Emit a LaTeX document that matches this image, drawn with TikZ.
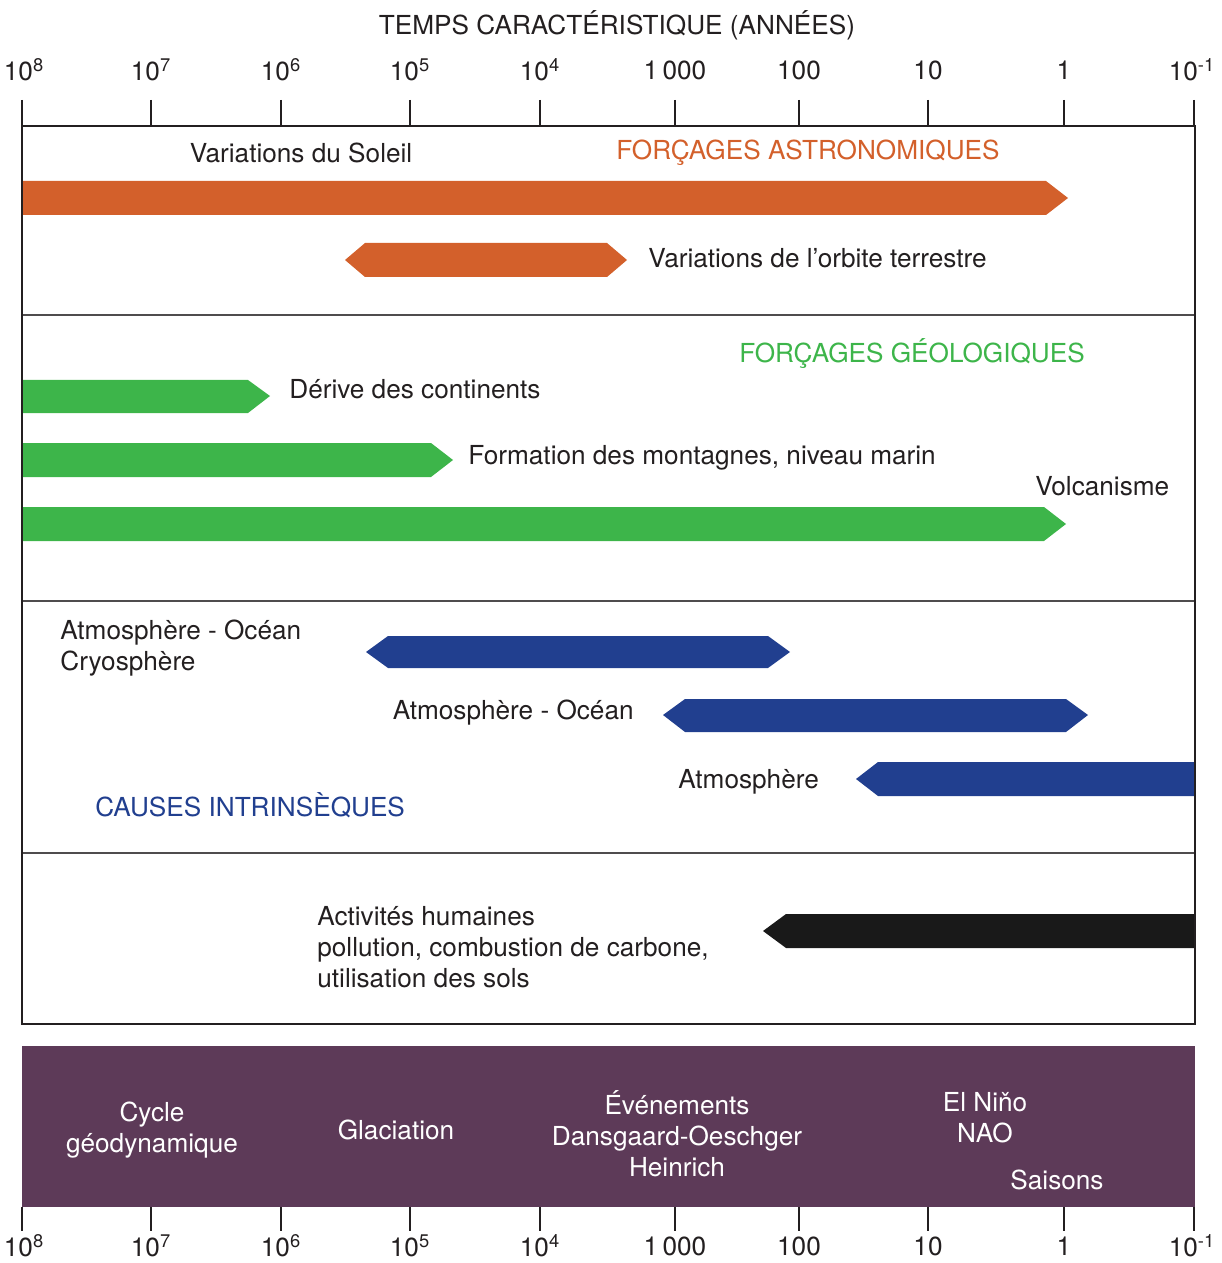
\documentclass[tikz,border=0pt]{standalone}
\usepackage{fontspec}
\setmainfont{TeX Gyre Heros}
\definecolor{orangeF}{HTML}{D3602B}
\definecolor{vertF}{HTML}{3DB54A}
\definecolor{bleuF}{HTML}{213F8F}
\definecolor{violetF}{HTML}{5D3A58}
\definecolor{grisT}{HTML}{231F20}

\begin{document}
\begin{tikzpicture}[x=0.02cm,y=-0.02cm]
	\tikzset{
		texte/.style={text=grisT,font=\fontsize{14.9}{17.6}\selectfont,inner sep=0pt,align=left},
		blanc/.style={texte,text=white,align=center},
		trait/.style={draw=grisT,line width=1.1pt},
		separ/.style={draw=grisT!80,line width=.8pt}}
	\useasboundingbox (0,0) rectangle (1222,1263);
	% forcages astronomiques
	\fill[orangeF] (22,181)--(1046,181)--(1068,198)--(1046,215)--(22,215)--cycle;
	\fill[orangeF] (345,260)--(365,243)--(607,243)--(627,260)--(607,277)--(365,277)--cycle;
	% forcages geologiques
	\fill[vertF] (22,380)--(248,380)--(270,396)--(248,413)--(22,413)--cycle;
	\fill[vertF] (22,443)--(431,443)--(453,460)--(431,477)--(22,477)--cycle;
	\fill[vertF] (22,507)--(1044,507)--(1066,524)--(1044,541)--(22,541)--cycle;
	% causes intrinseques
	\fill[bleuF] (366,652)--(388,636)--(768,636)--(790,652)--(768,668)--(388,668)--cycle;
	\fill[bleuF] (663,715)--(685,699)--(1066,699)--(1088,715)--(1066,732)--(685,732)--cycle;
	\fill[bleuF] (856,779)--(878,762)--(1195,762)--(1195,796)--(878,796)--cycle;
	% activites humaines
	\fill[black!90] (763,931)--(786,914)--(1195,914)--(1195,948)--(786,948)--cycle;
	% cadre
	\draw[separ] (22,315)--(1195,315) (22,601)--(1195,601) (22,853)--(1195,853);
	\draw[trait] (22,126) rectangle (1195,1024);
	\fill[violetF] (22,1046) rectangle (1195,1207);
	% axes
	\foreach \x/\xl/\lab [count=\i] in {22/24/10\textsuperscript{8},151/151/10\textsuperscript{7},281/281/10\textsuperscript{6},
		410/410/10\textsuperscript{5},540/540/10\textsuperscript{4},675/675/1\,000,799/799/100,928/928/10,1064/1064/1,1194/1192/10\textsuperscript{-1}}{
		\draw[trait] (\x,100)--(\x,126);
		\node[texte] (haut\i) at (\xl,70) {\lab};
		\draw[trait] (\x,1207)--(\x,1231);
		\node[texte] (bas\i) at (\xl,1246) {\lab};}
	\node[texte] (titre) at (617,25) {TEMPS CARACTÉRISTIQUE (ANNÉES)};
	% textes
	\node[texte] (soleil) at (301,153) {Variations du Soleil};
	\node[texte,text=orangeF] (astro) at (808,153) {FORÇAGES ASTRONOMIQUES};
	\node[texte,anchor=west] (orbite) at (648,258) {Variations de l’orbite terrestre};
	\node[texte,text=vertF] (geol) at (912,354) {FORÇAGES GÉOLOGIQUES};
	\node[texte,anchor=west] (derive) at (289,389) {Dérive des continents};
	\node[texte,anchor=west] (montagnes) at (468,458) {Formation des montagnes, niveau marin};
	\node[texte,anchor=west] (volcan) at (1035,486) {Volcanisme};
	\node[texte,anchor=west] (atmoc) at (60,648) {Atmosphère - Océan\\Cryosphère};
	\node[texte,anchor=east] (atmo) at (634,713) {Atmosphère - Océan};
	\node[texte,anchor=west] (atm) at (678,782) {Atmosphère};
	\node[texte,anchor=west,text=bleuF] (causes) at (95,805) {CAUSES INTRINSÈQUES};
	\node[texte,anchor=west] (humain) at (317,947) {Activités humaines\\pollution, combustion de carbone,\\utilisation des sols};
	\node[blanc] (cycle) at (152,1130) {Cycle\\géodynamique};
	\node[blanc] (glace) at (396,1130) {Glaciation};
	\node[blanc] (evenem) at (677,1134) {Événements\\Dansgaard-Oeschger\\Heinrich};
	\node[blanc] (nino) at (985,1118) {El Niňo\\NAO};
	\node[blanc] (saisons) at (1057,1180) {Saisons};
\end{tikzpicture}
\end{document}
